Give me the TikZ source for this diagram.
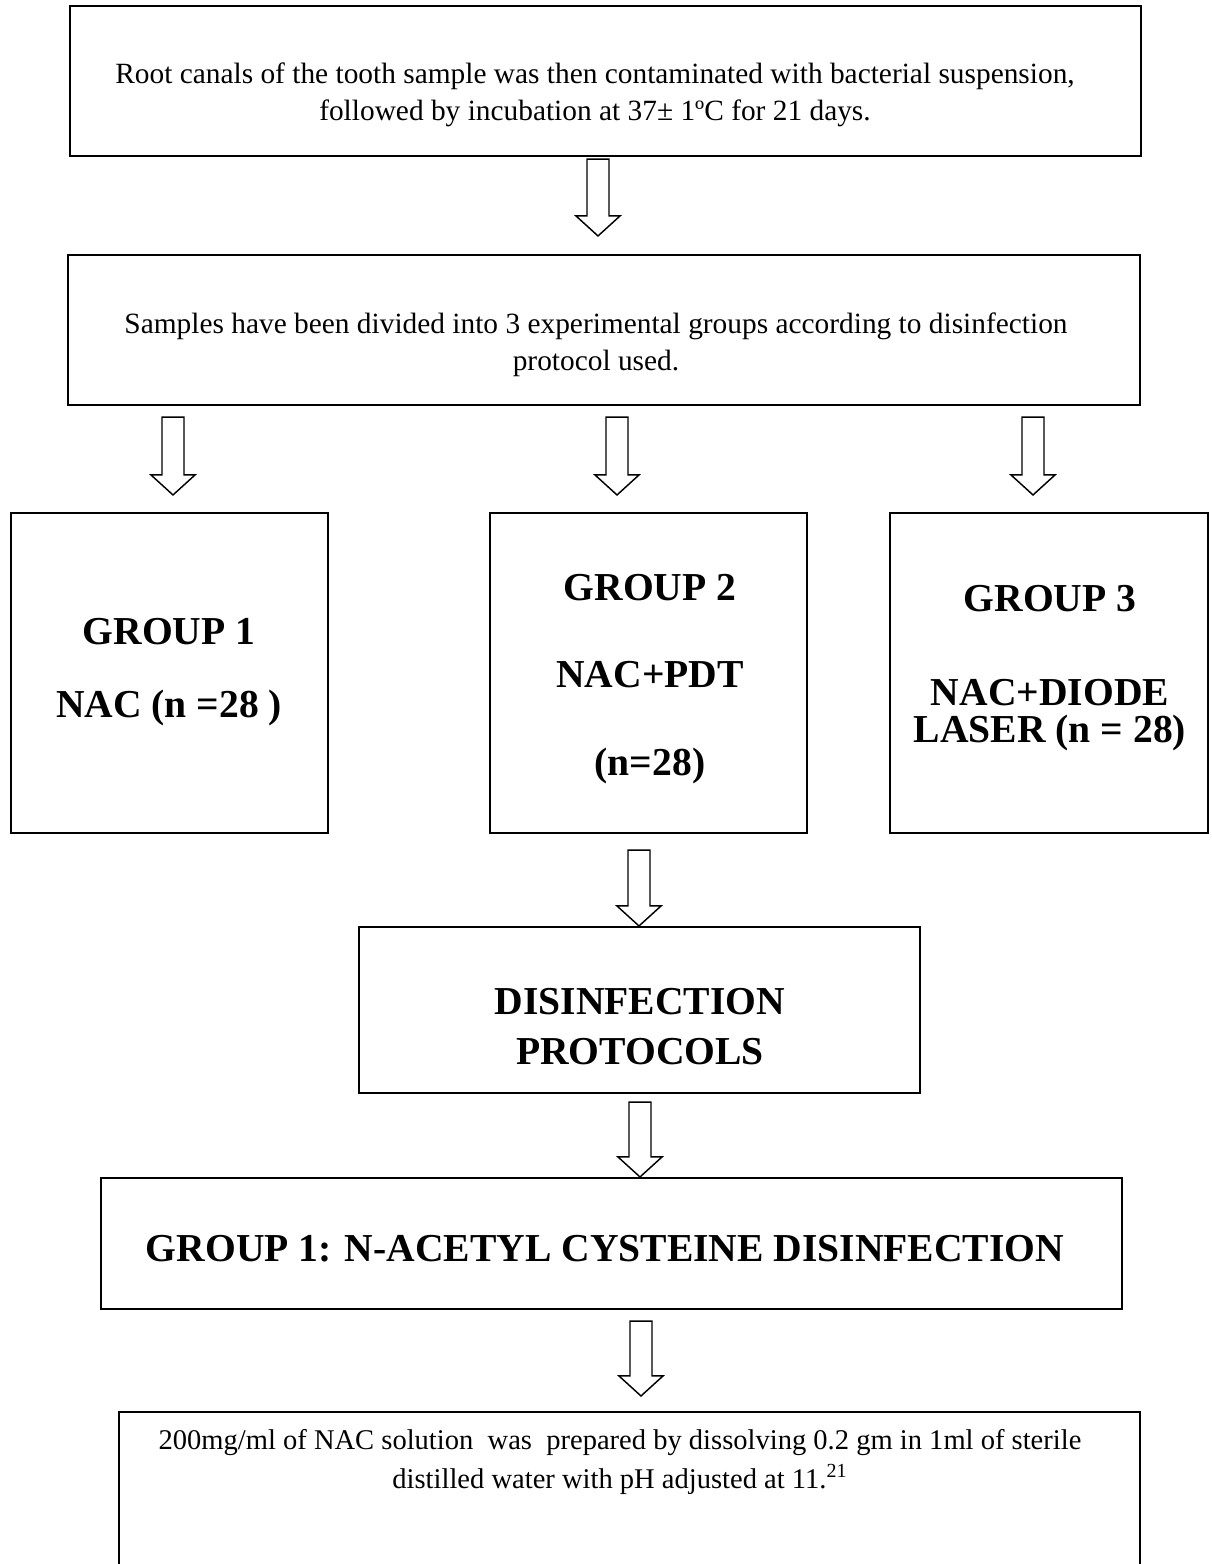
\documentclass[tikz,border=0pt]{standalone}
\usepackage{fontspec}
\setmainfont{Liberation Serif}
\usetikzlibrary{calc,fit}

% hollow block arrow pointing down: x, from node, to node, top gap, tip gap
\newcommand{\blockdown}[5]{%
  \coordinate (s) at ($(#1,0 |- #2.south)+(0,#4)$);
  \coordinate (e) at ($(#1,0 |- #3.north)+(0,-#5)$);
  \draw[hollow] ($(s)+(-11,0)$) -- ($(s)+(11,0)$) -- ($(e)+(11,-20)$)
    -- ($(e)+(22,-20)$) -- (e) -- ($(e)+(-22,-20)$) -- ($(e)+(-11,-20)$) -- cycle;}

\begin{document}
\begin{tikzpicture}[x=0.48pt,y=-0.48pt,
      b/.style={draw,line width=1pt,inner sep=0pt},
      txt/.style={align=center,inner sep=0pt,
                  font=\fontsize{14.1}{18}\selectfont},
      big/.style={align=center,inner sep=0pt,
                  font=\fontsize{19}{18}\selectfont\bfseries},
      hollow/.style={draw,line width=0.7pt,line join=miter,fill=white}]
    \useasboundingbox (0,0) rectangle (1212,1564);
    \clip (0,0) rectangle (1212,1564);

    \node[b,fit={(70,6) (1141,156)}]     (top)   {};
    \node[b,fit={(68,255) (1140,405)}]   (split) {};
    \node[b,fit={(11,513) (328,833)}]    (g1)    {};
    \node[b,fit={(490,513) (807,833)}]   (g2)    {};
    \node[b,fit={(890,513) (1208,833)}]  (g3)   {};
    \node[b,fit={(359,927) (920,1093)}]  (proto) {};
    \node[b,fit={(101,1178) (1122,1309)}](nac)   {};
    \node[b,fit={(119,1412) (1140,1620)}](sol)   {};

    \node[txt] (topT) at (595,95)
      {Root canals of the tooth sample was then contaminated with bacterial suspension,\\
       followed by incubation at 37± 1ºC for 21 days.};
    \node[txt] (splitT) at (596,345)
      {Samples have been divided into 3 experimental groups according to disinfection\\
       protocol used.};
    \node[big] (g1T) at (169,672) {GROUP 1\\[17pt] NAC (n =28 )};
    \node[big] (g2T) at (650,679) {GROUP 2\\[24pt] NAC+PDT\\[24pt] (n=28)};
    \node[big] (g3T) at (1050,668) {GROUP 3\\[27pt] NAC+DIODE\\ LASER (n = 28)};
    \node[big] (protoT) at (640,1027) {DISINFECTION\\[6pt] PROTOCOLS};
    \node[big] (nacT) at (605,1249) {GROUP 1: N-ACETYL CYSTEINE DISINFECTION};
    \node[txt,font=\fontsize{13.7}{19}\selectfont] (solT) at (620,1462)
      {200mg/ml of NAC solution\ \ was\ \ prepared by dissolving 0.2 gm in 1ml of sterile\\
       distilled water with pH adjusted at 11.\textsuperscript{21}};

    \blockdown{598}{top}{split}{2}{18}
    \foreach \x/\t in {173/g1,617/g2,1033/g3}
      {\blockdown{\x}{split}{\t}{11}{17}}
    \blockdown{639}{g2}{proto}{16}{0}
    \blockdown{640}{proto}{nac}{8}{0}
    \blockdown{641}{nac}{sol}{11}{15}
  \end{tikzpicture}
\end{document}
